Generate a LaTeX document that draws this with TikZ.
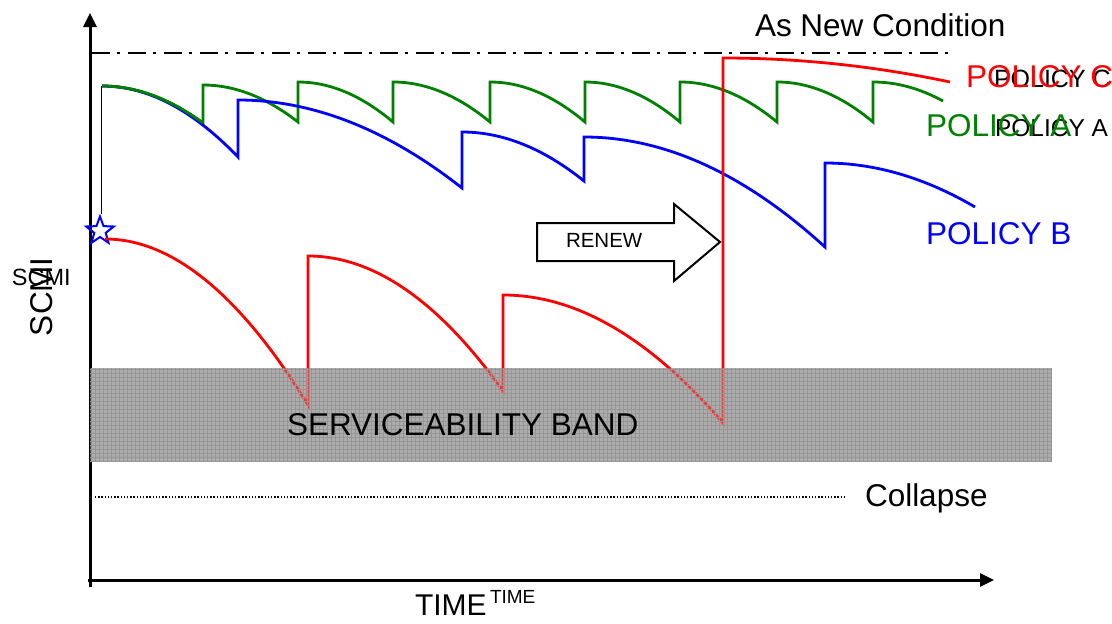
\documentclass[tikz,border=0pt]{standalone}
\usepackage{fontspec}
\setmainfont{Liberation Sans}
\usetikzlibrary{shapes.geometric,arrows.meta}
\newcommand\fsz[1]{\fontsize{#1}{#1}\selectfont}
\definecolor{bandfill}{RGB}{172,172,172}
\definecolor{bandgrid}{RGB}{150,150,150}
\definecolor{pgreen}{RGB}{0,128,0}
\definecolor{pblue}{RGB}{0,0,255}
\definecolor{pred}{RGB}{255,0,0}
\tikzset{
  axis/.style={line width=3pt,-{Triangle[width=13pt,length=14pt]}},
  curveA/.style={pgreen,line width=2.8pt,line join=miter},
  curveB/.style={pblue,line width=2.8pt,line join=miter},
  curveC/.style={pred,line width=2.8pt,line join=miter},
  lbl/.style={anchor=base west,inner sep=0pt,outer sep=0pt},
}
\begin{document}
\begin{tikzpicture}[x=1pt,y=-1pt]
\useasboundingbox (0,0) rectangle (1112,624);
% band base
\fill[bandfill] (90,368) rectangle (1052,462);
% reference lines
\draw[line width=2.5pt,dash pattern=on 18pt off 7pt on 2.5pt off 8.5pt] (92,53) -- (953,53);
\draw[line width=1.4pt,dash pattern=on 1.4pt off 1.8pt] (95,497) -- (845,497);
% axes
\coordinate (o) at (90,580);
\coordinate (ytop) at (90,13);
\coordinate (xend) at (994,580);
\draw[axis] (90,587) -- (ytop);
\draw[axis] (88,580) -- (xend);
% start marker
\node[star,star points=5,star point ratio=2.4,minimum size=29pt,inner sep=0pt,draw=pblue,line width=2pt] (st) at (100,231) {};
\draw[line width=1.8pt] (st.north) ++(1.5,0) -- (101.5,86);
% POLICY A (green)
\draw[curveA] (102,86) .. controls (135.7,86) and (169.3,98.3) .. (203,123) -- (203,85)
  .. controls (234.7,85) and (266.3,97.3) .. (298,122) -- (298,82)
  .. controls (329.7,82) and (361.3,95.3) .. (393,122) -- (393,82)
  .. controls (425.3,82) and (457.7,95.3) .. (490,122) -- (490,82)
  .. controls (521.7,82) and (553.3,95.3) .. (585,122) -- (585,82)
  .. controls (616.7,82) and (648.3,95.3) .. (680,122) -- (680,82)
  .. controls (712.3,82) and (744.7,95.3) .. (777,122) -- (777,82)
  .. controls (809,82) and (841,95.3) .. (873,122) -- (873,82)
  .. controls (896.3,82) and (919.7,88.3) .. (943,101);
% POLICY B (blue)
\draw[curveB] (102,86) .. controls (147.3,86) and (192.7,109.7) .. (238,157) -- (238,100)
  .. controls (312.7,100) and (387.3,129.3) .. (462,188) -- (462,132)
  .. controls (502.7,132) and (543.3,148.3) .. (584,181) -- (584,137)
  .. controls (664.3,137) and (744.7,173.7) .. (825,247) -- (825,163)
  .. controls (875,163) and (925,177.7) .. (975,207);
% redraw green start over blue
\draw[curveA] (102,86) .. controls (135.7,86) and (169.3,98.3) .. (203,123);
% POLICY C (red)
\draw[curveC] (105,239) .. controls (172,239) and (240,294.3) .. (308,405) -- (308,256)
  .. controls (373,256) and (438,300) .. (503,391) -- (503,295)
  .. controls (576.3,295) and (649.7,337.7) .. (723,423) -- (723,58)
  .. controls (798.7,58) and (874.3,66) .. (950,82);
% band overlay and grid
\fill[bandfill,fill opacity=0.38] (90,368) rectangle (1052,462);
\begin{scope}
\clip (90,368) rectangle (1052,462);
\foreach \gx in {91,95,...,1052} \draw[bandgrid,line width=0.7pt] (\gx,368) -- (\gx,462);
\foreach \gy in {369,373,...,462} \draw[bandgrid,line width=0.7pt] (90,\gy) -- (1052,\gy);
\end{scope}
% RENEW arrow
\draw[line width=2pt,fill=white,line join=miter] (537,223) -- (674,223) -- (674,204) -- (720,242) -- (674,281) -- (674,261) -- (537,261) -- cycle;
\node[lbl] (renew) at (566,247) {\fsz{20.5}RENEW};
% labels
\node[lbl] (asnew) at (755,36) {\fsz{31.5}As New Condition};
\node[lbl] (pcblack) at (994,87) {\fsz{25}POLICY C};
\node[lbl,text=pred] (pc) at (966,87) {\fsz{31.5}POLICY C};
\node[lbl] (pablack) at (995,136) {\fsz{24.5}POLICY A};
\node[lbl,text=pgreen] (pa) at (926,136) {\fsz{31.5}POLICY A};
\node[lbl,text=pblue] (pb) at (926,244) {\fsz{31.5}POLICY B};
\node[lbl] (band) at (287,435) {\fsz{31.5}SERVICEABILITY BAND};
\node[lbl] (collapse) at (865,506) {\fsz{31.5}Collapse};
\node[lbl] (time) at (415,615) {\fsz{30}TIME};
\node[lbl] (timesup) at (490,603) {\fsz{19}TIME};
\node[lbl,rotate=90] (scmi) at (52,336) {\fsz{31.5}SCMI};
\node[lbl] (scmismall) at (12,285) {\fsz{23.5}SCMI};
\end{tikzpicture}
\end{document}
